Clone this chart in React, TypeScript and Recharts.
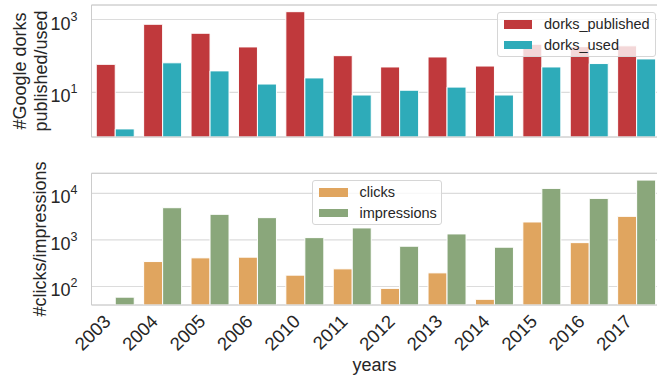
import { BarChart, Bar, XAxis, YAxis, CartesianGrid, Legend, ReferenceLine } from "recharts";

const years = ["2003", "2004", "2005", "2006", "2010", "2011", "2012", "2013", "2014", "2015", "2016", "2017"];
const dorksPublished = [59, 740, 420, 177, 1640, 102, 50, 94, 53, 210, 180, 190];
const dorksUsed = [1, 65, 39, 17, 25, 8.5, 11.5, 14, 8.5, 50, 62, 83];
const clicks = [null, 343, 412, 426, 175, 239, 91, 196, 53, 2430, 875, 3210];
const impressions = [59, 4920, 3550, 3010, 1120, 1810, 733, 1345, 698, 12800, 7810, 19300];

const dorkTicks = [10, 1000];
const trafficTicks = [100, 1000, 10000];
const dorkDomain = [0.6, 2500];
const trafficDomain = [40, 27000];

const INK = "#262626";
const SPINE = "#cccccc";
const GRID = "#dcdcdc";
const FONT = "'Liberation Sans', Arial, sans-serif";

const dorkRows = years.map((year, i) => ({
  year,
  dorks_published: dorksPublished[i],
  dorks_used: dorksUsed[i],
}));

const trafficRows = years.map((year, i) => ({
  year,
  clicks: clicks[i],
  impressions: impressions[i],
}));

// "10" with the exponent raised, like matplotlib's log labels
function PowerTick({ x, y, payload }: any) {
  const exp = Math.round(Math.log10(payload.value));
  return (
    <text x={x} y={y + 10} textAnchor="end" fill={INK} fontFamily={FONT}>
      <tspan fontSize={18}>10</tspan>
      <tspan fontSize={12.5} dy={-9}>
        {exp}
      </tspan>
    </text>
  );
}

function YearTick({ x, y, payload }: any) {
  const ax = x - 3.5;
  const ay = y + 17.6;
  return (
    <text
      x={ax}
      y={ay}
      textAnchor="end"
      fill={INK}
      fontFamily={FONT}
      fontSize={18.5}
      transform={`rotate(-45, ${ax}, ${ay})`}
    >
      {payload.value}
    </text>
  );
}

function BoxLegend({ payload, left, top, width, swatch }: any) {
  return (
    <div
      style={{
        position: "absolute",
        left,
        top,
        width,
        height: 45,
        boxSizing: "border-box",
        border: "1px solid #d6d6d6",
        borderRadius: 3,
        background: "rgba(255,255,255,0.8)",
        padding: `1px 0 0 ${swatch.left}px`,
        fontFamily: FONT,
        fontSize: 14.5,
        color: INK,
      }}
    >
      {(payload || []).map((item: any) => (
        <div key={item.value} style={{ display: "flex", alignItems: "center", height: 20.7 }}>
          <span
            style={{
              display: "inline-block",
              width: swatch.width,
              height: 8.5,
              background: item.color,
              marginRight: swatch.gap,
            }}
          />
          <span>{item.value}</span>
        </div>
      ))}
    </div>
  );
}

export default function App() {
  return (
    <div
      style={{
        position: "absolute",
        left: 0,
        top: 0,
        width: 657,
        height: 380,
        overflow: "hidden",
        background: "#fff",
      }}
    >
      <div style={{ position: "absolute", left: 0, top: 0 }}>
        <BarChart
          width={670}
          height={138}
          data={dorkRows}
          margin={{ top: 5, right: 9.7, bottom: 0, left: 0 }}
          barGap={0}
          barCategoryGap="10%"
        >
          <CartesianGrid vertical={false} stroke={GRID} strokeWidth={1.2} />
          <XAxis dataKey="year" height={1} tick={false} tickLine={false} axisLine={{ stroke: SPINE }} />
          <YAxis
            scale="log"
            domain={dorkDomain}
            allowDataOverflow
            ticks={dorkTicks}
            width={91.5}
            tickLine={false}
            tickSize={0}
            tickMargin={14}
            axisLine={{ stroke: SPINE }}
            tick={<PowerTick />}
            label={{
              content: () => (
                <g fill={INK} fontFamily={FONT} fontSize={18} textAnchor="middle">
                  <text x={26} y={71} transform="rotate(-90, 26, 71)">
                    #Google dorks
                  </text>
                  <text x={47} y={71} transform="rotate(-90, 47, 71)">
                    published/used
                  </text>
                </g>
              ),
            }}
          />
          <ReferenceLine y={dorkDomain[1]} stroke={SPINE} />
          <Bar dataKey="dorks_published" fill="#c0393c" stroke="#fff" strokeWidth={1} isAnimationActive={false} />
          <Bar dataKey="dorks_used" fill="#2eabb9" stroke="#fff" strokeWidth={1} isAnimationActive={false} />
          <Legend
            layout="horizontal"
            verticalAlign="middle"
            align="center"
            wrapperStyle={{ left: 0, top: 0, width: 0, height: 0 }}
            content={(props: any) => (
              <BoxLegend
                payload={props.payload}
                left={497}
                top={12}
                width={159}
                swatch={{ left: 6, width: 28, gap: 12 }}
              />
            )}
          />
        </BarChart>
      </div>

      <div style={{ position: "absolute", left: 0, top: 160 }}>
        <BarChart
          width={670}
          height={220}
          data={trafficRows}
          margin={{ top: 13.3, right: 9.7, bottom: 0, left: 0 }}
          barGap={0}
          barCategoryGap="10%"
        >
          <CartesianGrid vertical={false} stroke={GRID} strokeWidth={1.2} />
          <XAxis
            dataKey="year"
            height={75}
            interval={0}
            tickLine={false}
            tickSize={0}
            tickMargin={0}
            axisLine={{ stroke: SPINE }}
            tick={<YearTick />}
            label={{
              content: (p: any) => {
                const vb = p.viewBox || {};
                return (
                  <text
                    x={vb.x + vb.width / 2 - 1.5}
                    y={vb.y + 66}
                    textAnchor="middle"
                    fill={INK}
                    fontFamily={FONT}
                    fontSize={18}
                  >
                    years
                  </text>
                );
              },
            }}
          />
          <YAxis
            scale="log"
            domain={trafficDomain}
            allowDataOverflow
            ticks={trafficTicks}
            width={91.5}
            tickLine={false}
            tickSize={0}
            tickMargin={14}
            axisLine={{ stroke: SPINE }}
            tick={<PowerTick />}
            label={{
              content: () => (
                <text
                  x={46}
                  y={79}
                  transform="rotate(-90, 46, 79)"
                  textAnchor="middle"
                  fill={INK}
                  fontFamily={FONT}
                  fontSize={18}
                >
                  #clicks/impressions
                </text>
              ),
            }}
          />
          <ReferenceLine y={trafficDomain[1]} stroke={SPINE} />
          <Bar dataKey="clicks" fill="#e0a55f" stroke="#fff" strokeWidth={1} isAnimationActive={false} />
          <Bar dataKey="impressions" fill="#8aa77b" stroke="#fff" strokeWidth={1} isAnimationActive={false} />
          <Legend
            layout="horizontal"
            verticalAlign="middle"
            align="center"
            wrapperStyle={{ left: 0, top: 0, width: 0, height: 0 }}
            content={(props: any) => (
              <BoxLegend
                payload={props.payload}
                left={312}
                top={20}
                width={130}
                swatch={{ left: 5.5, width: 29, gap: 12 }}
              />
            )}
          />
        </BarChart>
      </div>
    </div>
  );
}
